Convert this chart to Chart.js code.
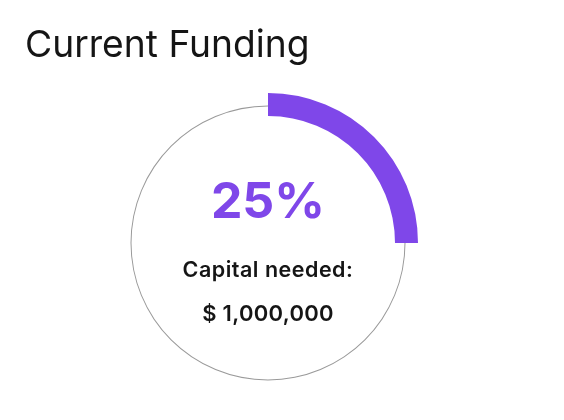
<!DOCTYPE html>
<html>
<head>
<meta charset="utf-8">
<script src="https://cdn.jsdelivr.net/npm/chart.js@4.4.1/dist/chart.umd.min.js"></script>
<style>
  html, body { margin: 0; padding: 0; background: #fff; }
  #wrap { position: relative; width: 564px; height: 420px; overflow: hidden; font-family: Inter, "Noto Sans", sans-serif; }
  canvas { position: absolute; left: 0; top: 0; }
  .t { position: absolute; white-space: nowrap; }
  #title { left: 25px; top: 21px; font-size: 37.2px; font-weight: 400; color: #151515; }
  .center { left: 0; width: 536px; text-align: center; }
  #pct { top: 170px; font-size: 50px; font-weight: 700; color: #7f47e9; }
  #lab { top: 256px; font-size: 21.5px; font-weight: 600; color: #151515; letter-spacing: 0.5px; }
  #amt { top: 300px; font-size: 22px; font-weight: 600; color: #151515; letter-spacing: 0.3px; }
</style>
</head>
<body>
<div id="wrap">
  <canvas id="ring" width="564" height="420"></canvas>
  <canvas id="arc" width="564" height="420"></canvas>
  <div class="t" id="title"></div>
  <div class="t center" id="pct"></div>
  <div class="t center" id="lab"></div>
  <div class="t center" id="amt"></div>
</div>
<script>
const categories = ['Funded', 'Remaining'];
const fundedPct = [25];
const remainingPct = [75];
const capitalNeeded = [1000000];
const titleText = 'Current Funding';
const capitalLabel = 'Capital needed:';

const values = [fundedPct[0], remainingPct[0]];
const purple = '#7f47e9';
const grey = '#9a9a9a';
const clear = 'rgba(0,0,0,0)';

document.getElementById('title').textContent = titleText;
document.getElementById('pct').textContent = fundedPct[0] + '%';
document.getElementById('lab').textContent = capitalLabel;
document.getElementById('amt').textContent = '$ ' + capitalNeeded[0].toLocaleString('en-US');

const common = {
  responsive: false,
  animation: false,
  rotation: 0,
  layout: { padding: { left: 118, right: 146, top: 93, bottom: 27 } },
  plugins: { legend: { display: false }, tooltip: { enabled: false }, title: { display: false } }
};

// thin grey track (remaining part of the circle)
new Chart(document.getElementById('ring'), {
  type: 'doughnut',
  data: { labels: categories, datasets: [{ data: values, backgroundColor: [clear, grey], borderWidth: 0 }] },
  options: Object.assign({}, common, { radius: 137.5, cutout: '99.27%' })
});

// thick purple funded arc
new Chart(document.getElementById('arc'), {
  type: 'doughnut',
  data: { labels: categories, datasets: [{ data: values, backgroundColor: [purple, clear], borderWidth: 0 }] },
  options: Object.assign({}, common, { cutout: '84.67%' })
});
</script>
</body>
</html>
